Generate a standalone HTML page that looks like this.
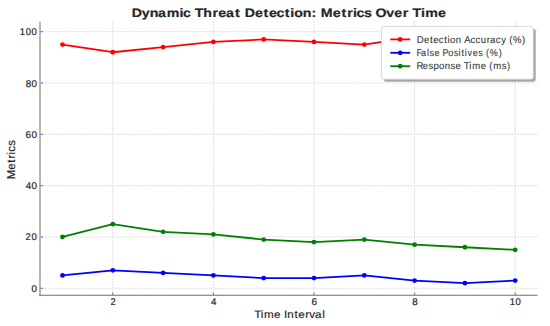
<!DOCTYPE html>
<html><head><meta charset="utf-8"><title>Dynamic Threat Detection: Metrics Over Time</title>
<style>html,body{margin:0;padding:0;background:#fff;width:550px;height:326px;overflow:hidden;font-family:"Liberation Sans",sans-serif}svg{display:block;text-rendering:geometricPrecision}</style>
</head><body>
<svg width="550" height="326" viewBox="0 0 550 326" font-family="'Liberation Sans', sans-serif"><rect x="0" y="0" width="550" height="326" fill="#fff"/><g stroke="#d6d6d6" stroke-width="1" stroke-dasharray="1.5 1.23" fill="none"><line x1="112.80" y1="21.7" x2="112.80" y2="295.5"/><line x1="213.40" y1="21.7" x2="213.40" y2="295.5"/><line x1="314.00" y1="21.7" x2="314.00" y2="295.5"/><line x1="414.60" y1="21.7" x2="414.60" y2="295.5"/><line x1="515.20" y1="21.7" x2="515.20" y2="295.5"/><line x1="39.6" y1="288.30" x2="537.6" y2="288.30"/><line x1="39.6" y1="236.98" x2="537.6" y2="236.98"/><line x1="39.6" y1="185.66" x2="537.6" y2="185.66"/><line x1="39.6" y1="134.34" x2="537.6" y2="134.34"/><line x1="39.6" y1="83.02" x2="537.6" y2="83.02"/><line x1="39.6" y1="31.70" x2="537.6" y2="31.70"/></g><polyline points="62.50,44.53 112.80,52.23 163.10,47.10 213.40,41.96 263.70,39.40 314.00,41.96 364.30,44.53 414.60,36.83 464.90,34.27 515.20,39.40" fill="none" stroke="#ff0000" stroke-width="1.8" stroke-linejoin="round" stroke-linecap="butt"/><circle cx="62.50" cy="44.53" r="2.4" fill="#ff0000"/><circle cx="112.80" cy="52.23" r="2.4" fill="#ff0000"/><circle cx="163.10" cy="47.10" r="2.4" fill="#ff0000"/><circle cx="213.40" cy="41.96" r="2.4" fill="#ff0000"/><circle cx="263.70" cy="39.40" r="2.4" fill="#ff0000"/><circle cx="314.00" cy="41.96" r="2.4" fill="#ff0000"/><circle cx="364.30" cy="44.53" r="2.4" fill="#ff0000"/><circle cx="414.60" cy="36.83" r="2.4" fill="#ff0000"/><circle cx="464.90" cy="34.27" r="2.4" fill="#ff0000"/><circle cx="515.20" cy="39.40" r="2.4" fill="#ff0000"/><polyline points="62.50,275.47 112.80,270.34 163.10,272.90 213.40,275.47 263.70,278.04 314.00,278.04 364.30,275.47 414.60,280.60 464.90,283.17 515.20,280.60" fill="none" stroke="#0000ff" stroke-width="1.8" stroke-linejoin="round" stroke-linecap="butt"/><circle cx="62.50" cy="275.47" r="2.4" fill="#0000ff"/><circle cx="112.80" cy="270.34" r="2.4" fill="#0000ff"/><circle cx="163.10" cy="272.90" r="2.4" fill="#0000ff"/><circle cx="213.40" cy="275.47" r="2.4" fill="#0000ff"/><circle cx="263.70" cy="278.04" r="2.4" fill="#0000ff"/><circle cx="314.00" cy="278.04" r="2.4" fill="#0000ff"/><circle cx="364.30" cy="275.47" r="2.4" fill="#0000ff"/><circle cx="414.60" cy="280.60" r="2.4" fill="#0000ff"/><circle cx="464.90" cy="283.17" r="2.4" fill="#0000ff"/><circle cx="515.20" cy="280.60" r="2.4" fill="#0000ff"/><polyline points="62.50,236.98 112.80,224.15 163.10,231.85 213.40,234.41 263.70,239.55 314.00,242.11 364.30,239.55 414.60,244.68 464.90,247.24 515.20,249.81" fill="none" stroke="#008000" stroke-width="1.8" stroke-linejoin="round" stroke-linecap="butt"/><circle cx="62.50" cy="236.98" r="2.4" fill="#008000"/><circle cx="112.80" cy="224.15" r="2.4" fill="#008000"/><circle cx="163.10" cy="231.85" r="2.4" fill="#008000"/><circle cx="213.40" cy="234.41" r="2.4" fill="#008000"/><circle cx="263.70" cy="239.55" r="2.4" fill="#008000"/><circle cx="314.00" cy="242.11" r="2.4" fill="#008000"/><circle cx="364.30" cy="239.55" r="2.4" fill="#008000"/><circle cx="414.60" cy="244.68" r="2.4" fill="#008000"/><circle cx="464.90" cy="247.24" r="2.4" fill="#008000"/><circle cx="515.20" cy="249.81" r="2.4" fill="#008000"/><line x1="40.0" y1="21.7" x2="40.0" y2="295.5" stroke="#9e9e9e" stroke-width="1.5"/><line x1="39.2" y1="295.2" x2="537.6" y2="295.2" stroke="#6c6c6c" stroke-width="1.15"/><g stroke="#666" stroke-width="0.9"><line x1="112.80" y1="295.0" x2="112.80" y2="292.5"/><line x1="213.40" y1="295.0" x2="213.40" y2="292.5"/><line x1="314.00" y1="295.0" x2="314.00" y2="292.5"/><line x1="414.60" y1="295.0" x2="414.60" y2="292.5"/><line x1="515.20" y1="295.0" x2="515.20" y2="292.5"/><line x1="40.6" y1="288.30" x2="43.2" y2="288.30"/><line x1="40.6" y1="236.98" x2="43.2" y2="236.98"/><line x1="40.6" y1="185.66" x2="43.2" y2="185.66"/><line x1="40.6" y1="134.34" x2="43.2" y2="134.34"/><line x1="40.6" y1="83.02" x2="43.2" y2="83.02"/><line x1="40.6" y1="31.70" x2="43.2" y2="31.70"/></g><text transform="translate(0,305.2) scale(0.9508,1)" x="116.23" y="0" font-size="9.8" fill="#262626" stroke="#262626" stroke-width="0.2">2</text><text transform="translate(0,305.2) scale(0.9865,1)" x="213.93" y="0" font-size="9.8" fill="#262626" stroke="#262626" stroke-width="0.2">4</text><text transform="translate(0,305.2) scale(1.0209,1)" x="305.12" y="0" font-size="9.8" fill="#262626" stroke="#262626" stroke-width="0.2">6</text><text transform="translate(0,305.2) scale(0.9971,1)" x="413.40" y="0" font-size="9.8" fill="#262626" stroke="#262626" stroke-width="0.2">8</text><text transform="translate(0,305.2) scale(0.9654,1)" x="527.99 534.08" y="0" font-size="9.8" fill="#262626" stroke="#262626" stroke-width="0.2">10</text><text transform="translate(0,291.80) scale(0.9864,1)" x="31.94" y="0" font-size="9.8" fill="#262626" stroke="#262626" stroke-width="0.2">0</text><text transform="translate(0,240.48) scale(0.9690,1)" x="26.41 32.56" y="0" font-size="9.8" fill="#262626" stroke="#262626" stroke-width="0.2">20</text><text transform="translate(0,189.16) scale(0.9864,1)" x="26.02 31.93" y="0" font-size="9.8" fill="#262626" stroke="#262626" stroke-width="0.2">40</text><text transform="translate(0,137.84) scale(1.0033,1)" x="25.54 31.35" y="0" font-size="9.8" fill="#262626" stroke="#262626" stroke-width="0.2">60</text><text transform="translate(0,86.52) scale(0.9917,1)" x="25.87 31.75" y="0" font-size="9.8" fill="#262626" stroke="#262626" stroke-width="0.2">80</text><text transform="translate(0,35.20) scale(0.9726,1)" x="20.38 26.43 32.43" y="0" font-size="9.8" fill="#262626" stroke="#262626" stroke-width="0.2">100</text><text transform="translate(0,318.3) scale(1.0920,1)" x="232.76 238.89 241.77 251.02 256.99 260.06 263.14 269.60 273.09 279.46 283.30 288.52 295.04" y="0" font-size="10.7" fill="#262626" stroke="#262626" stroke-width="0.15">Time Interval</text><text transform="translate(15.0,159.35) rotate(-90) scale(0.9930,1)" x="-19.95 -10.38 -3.41 0.83 4.98 7.70 13.67" y="0" font-size="11.5" fill="#262626" stroke="#262626" stroke-width="0.15">Metrics</text><text transform="translate(0,16.8) scale(1.1551,1)" x="113.98 122.72 129.64 136.89 144.31 155.39 158.43 165.16 168.68 176.03 183.89 188.88 195.67 203.49 208.11 211.79 220.66 228.15 232.88 239.46 246.62 251.35 254.74 262.13 269.71 273.87 277.67 288.16 295.64 300.59 305.58 308.62 315.14 321.64 325.03 334.33 341.29 348.67 353.56 357.07 364.55 368.09 379.17" y="0" font-size="12.3" font-weight="bold" fill="#262626" stroke="#262626" stroke-width="0.2">Dynamic Threat Detection: Metrics Over Time</text><rect x="383.79999999999995" y="28.799999999999997" width="151.89999999999998" height="52.9" rx="2.6" fill="#a6a6a6"/><rect x="381.4" y="26.4" width="151.89999999999998" height="52.9" rx="2.6" fill="#fff" stroke="#d0d0d0" stroke-width="0.8"/><line x1="390.3" y1="39.40" x2="410.2" y2="39.40" stroke="#ff0000" stroke-width="1.8"/><circle cx="400.2" cy="39.40" r="2.4" fill="#ff0000"/><text transform="translate(0,42.50) scale(0.9702,1)" x="429.60 436.99 443.10 446.54 452.21 457.87 461.35 463.91 469.84 475.57 478.53 484.93 490.14 495.57 501.83 505.04 511.08 516.60 521.88 524.85 528.70 538.06" y="0" font-size="9.9" fill="#333" stroke="#333" stroke-width="0.08">Detection Accuracy (%)</text><line x1="390.3" y1="52.80" x2="410.2" y2="52.80" stroke="#0000ff" stroke-width="1.8"/><circle cx="400.2" cy="52.80" r="2.4" fill="#0000ff"/><text transform="translate(0,55.90) scale(0.9206,1)" x="452.46 457.39 463.86 466.54 471.90 477.70 480.77 486.85 492.85 498.16 501.20 504.85 507.82 513.59 519.59 524.60 527.83 532.02 541.72" y="0" font-size="9.9" fill="#333" stroke="#333" stroke-width="0.08">False Positives (%)</text><line x1="390.3" y1="66.20" x2="410.2" y2="66.20" stroke="#008000" stroke-width="1.8"/><circle cx="400.2" cy="66.20" r="2.4" fill="#008000"/><text transform="translate(0,69.30) scale(0.9680,1)" x="430.34 436.83 442.55 447.76 453.63 459.57 465.38 470.45 476.11 479.01 484.86 487.81 496.73 502.38 505.36 509.64 518.44 523.78" y="0" font-size="9.9" fill="#333" stroke="#333" stroke-width="0.08">Response Time (ms)</text></svg>
</body></html>
